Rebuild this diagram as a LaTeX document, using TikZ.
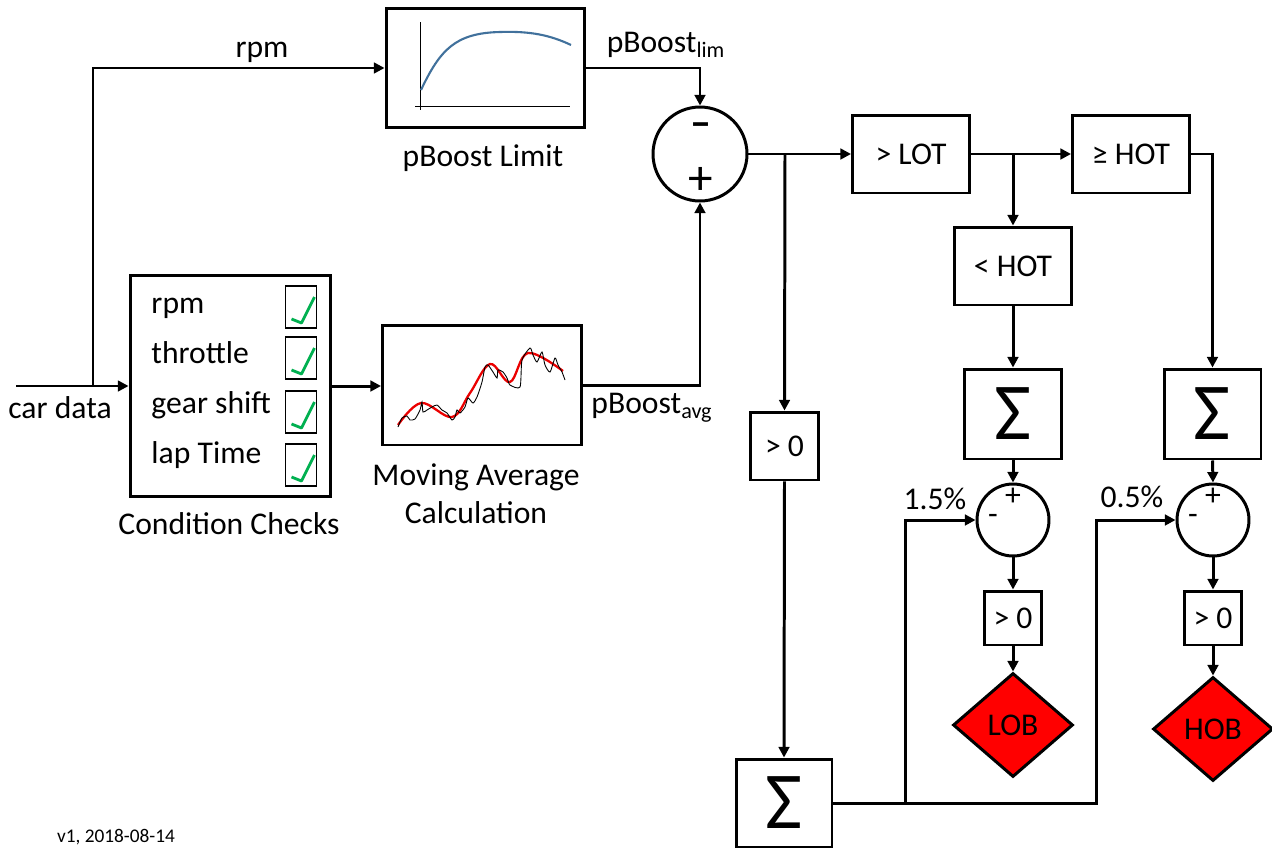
\documentclass[tikz,border=0pt]{standalone}
\usepackage{fontspec}
\setmainfont{Carlito}
\usetikzlibrary{arrows.meta, positioning, shapes.geometric, calc}
\definecolor{CheckGreen}{RGB}{0,176,80}
\definecolor{CurveBlue}{RGB}{65,113,156}
\definecolor{SignalRed}{RGB}{235,0,0}

\begin{document}
\begin{tikzpicture}[x=0.02cm, y=-0.02cm, line width=1.7pt, font=\fontsize{18}{21.5}\selectfont,
  blk/.style={draw, rectangle, inner sep=0pt},
  sumnode/.style={draw, circle, inner sep=0pt},
  flagnode/.style={draw, diamond, fill=red, inner sep=0pt, minimum width=2.4cm, minimum height=2.08cm},
  sigma/.style={blk, font=\fontsize{46}{46}\selectfont},
  tickbox/.style={draw, rectangle, line width=0.9pt, minimum width=0.62cm, minimum height=0.84cm},
  flow/.style={-{Triangle[length=6pt,width=6pt]}}]
\useasboundingbox (0,0) rectangle (1272,849);
\node[blk, minimum width=3.98cm, minimum height=2.4cm] (limit) at (485.5,68) {};
\node (limitlbl) at (483,158) {pBoost Limit};
\draw[line width=0.5pt] (420,22) -- (420,110);
\draw[line width=0.5pt] (415,106) -- (570,106);
\draw[CurveBlue, line width=1.2pt] (421,90) .. controls (440,50) and (455,33) .. (500,32) .. controls (530,31) and (550,35) .. (571,45);
\node[blk, minimum width=4.02cm, minimum height=4.42cm] (cond) at (230.5,386) {};
\node (condlbl) at (229,524) {Condition Checks};
\foreach \txt/\yy/\cy [count=\i] in {rpm/313/307, throttle/363/358, gear shift/413/412, lap Time/463/465} {
  \node[anchor=base west, inner sep=0pt] (item\i) at (150,\yy) {\txt};
  \node[tickbox] (box\i) at (301,\cy) {};
  \draw[CheckGreen, line width=1.6pt, line join=round] ($(box\i)+(-9.5,12)$) -- ($(box\i)+(0.5,16)$) -- ($(box\i)+(13.5,-10)$);
}
\coordinate (cin) at (16,386);
\coordinate (split) at (93,386);
\draw[flow, line width=1.4pt] (cin) -- (cond.west);
\node (cardata) at (60,408) {car data};
\draw[flow, line width=1.4pt] (split) |- (limit.west);
\node (rpmlbl) at (262,52) {rpm};
\node[blk, minimum width=3.98cm, minimum height=2.4cm] (avg) at (482,385) {};
\node[align=center] (avglbl) at (476,494) {Moving Average\\Calculation};
\draw[flow] (cond.east) -- (cond.east -| avg.west);
\draw[SignalRed, line width=1.3pt] plot[smooth, tension=0.6] coordinates {(398,425) (421,403) (452,417) (470,393) (490,364) (510,382) (528,353) (563,371)};
\draw[line width=0.5pt] plot[smooth, tension=0.4] coordinates {(398,427) (402,418) (407,416) (410,420) (415,419) (420,410) (422,402) (423,412) (427,410) (432,407) (437,405) (442,410) (447,413) (452,420) (455,417) (457,410) (460,413) (465,407) (468,398) (473,403) (477,397) (482,382) (485,367) (488,365) (493,372) (497,378) (498,370) (503,372) (507,378) (510,385) (520,387) (522,360) (530,348) (533,355) (537,362) (542,352) (545,365) (550,372) (555,358) (558,365) (562,372) (565,380)};
\node[sumnode, minimum size=1.88cm] (diff) at (700,154) {};
\node[font=\fontsize{24}{24}\selectfont\bfseries] (minus) at (701,130) {–};
\node[font=\fontsize{28}{28}\selectfont] (plus) at (701,181) {+};
\draw[flow] (limit.east) -| (diff.north);
\node (limlbl) at (666,45) {pBoost\textsubscript{lim}};
\draw[flow] (avg.east) -| (diff.south);
\node (avgsub) at (652,408) {pBoost\textsubscript{avg}};
\node[blk, minimum width=2.34cm, minimum height=1.56cm] (lot) at (911,154) {> LOT};
\node[blk, minimum width=2.34cm, minimum height=1.56cm] (hot) at (1131,154) {≥ HOT};
\node[blk, minimum width=2.34cm, minimum height=1.56cm] (nothot) at (1013,266) {< HOT};
\draw[flow] (diff.east) -- (lot.west);
\draw[flow] (lot.east) -- (hot.west);
\coordinate (jlot) at (1013,154);
\draw[flow] (jlot) -- (nothot.north);
\node[sigma, minimum width=1.94cm, minimum height=1.8cm] (sumlo) at (1013,414) {Σ};
\node[sigma, minimum width=1.94cm, minimum height=1.8cm] (sumhi) at (1212.5,414) {Σ};
\draw[flow] (nothot.south) -- (sumlo.north);
\draw[flow] (hot.east) -| (sumhi.north);
\node[sumnode, minimum size=1.44cm] (difflo) at (1013,520) {};
\node[sumnode, minimum size=1.44cm] (diffhi) at (1213,520) {};
\node (pluslo) at (1013,497) {+};
\node (minuslo) at (993,519) {-};
\node (plushi) at (1213,497) {+};
\node (minushi) at (1193,519) {-};
\draw[flow] (sumlo.south) -- (difflo.north);
\draw[flow] (sumhi.south) -- (diffhi.north);
\node[blk, minimum width=1.14cm, minimum height=1.08cm] (poslo) at (1013,618) {> 0};
\node[blk, minimum width=1.14cm, minimum height=1.08cm] (poshi) at (1213,618) {> 0};
\draw[flow] (difflo.south) -- (poslo.north);
\draw[flow] (diffhi.south) -- (poshi.north);
\node[flagnode] (lob) at (1013,725) {LOB};
\node[flagnode] (hob) at (1213,729) {HOB};
\draw[flow] (poslo.south) -- (lob.north);
\draw[flow] (poshi.south) -- (hob.north);
\coordinate (jdiff) at (785,154);
\node[blk, minimum size=1.36cm] (posmid) at (784.5,446) {> 0};
\draw[flow] (jdiff) -- (posmid.north);
\node[sigma, minimum width=1.92cm, minimum height=1.76cm] (sumall) at (784,803) {Σ};
\draw[flow] (posmid.south) -- (sumall.north);
\coordinate (jsum) at (905,803);
\coordinate (jend) at (1096,803);
\draw[flow] (sumall.east) -- (jend) |- (diffhi.west);
\draw[flow] (jsum) |- (difflo.west);
\node (tollo) at (935,499) {1.5\%};
\node (tolhi) at (1132,497) {0.5\%};
\node[font=\fontsize{11}{13}\selectfont, anchor=north] (version) at (116,822) {v1, 2018-08-14};
\end{tikzpicture}
\end{document}
